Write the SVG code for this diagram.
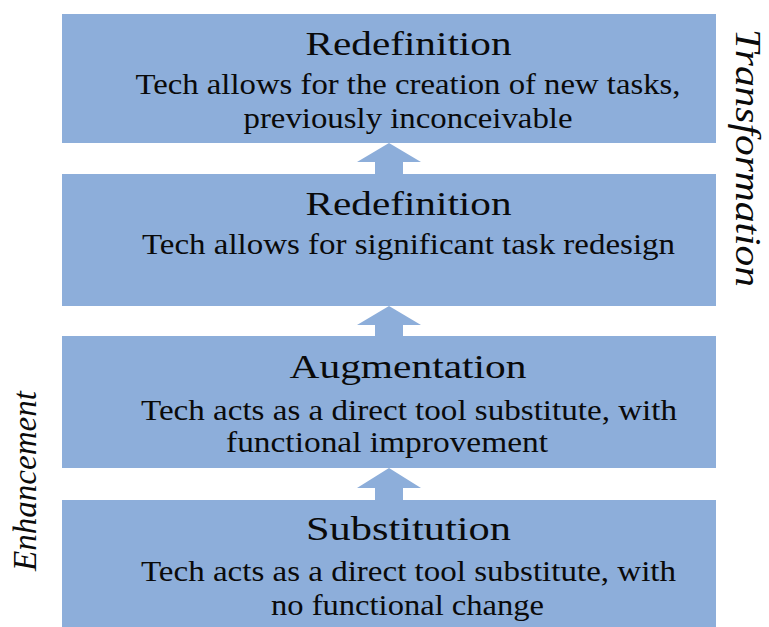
<svg xmlns="http://www.w3.org/2000/svg" width="769" height="627" viewBox="0 0 769 627">
<style>
.box{fill:#8DAEDA}
.arrow{fill:#8DAEDA}
text{font-family:"Liberation Serif","Times New Roman",serif;fill:#0a0a0a}
.title{font-size:34px;text-anchor:middle}
.body{font-size:29px;text-anchor:middle}
.side{font-size:33px;font-style:italic}
</style>
<rect width="769" height="627" fill="#ffffff"/>
<g id="connectors">
<path class="arrow" d="M389,143 L421,162 L403,162 L403,175 L375,175 L375,162 L357,162 Z"/>
<path class="arrow" d="M389,306 L421,325 L403,325 L403,337 L375,337 L375,325 L357,325 Z"/>
<path class="arrow" d="M389,468 L421,488 L403,488 L403,501 L375,501 L375,488 L357,488 Z"/>
</g>
<g id="node-redefinition-top">
<rect class="box" x="62" y="14" width="654" height="129"/>
<text class="title" x="408.5" y="55" textLength="206" lengthAdjust="spacingAndGlyphs">Redefinition</text>
<text class="body" x="408" y="94" textLength="545" lengthAdjust="spacingAndGlyphs">Tech allows for the creation of new tasks,</text>
<text class="body" x="408" y="128" textLength="329" lengthAdjust="spacingAndGlyphs">previously inconceivable</text>
</g>
<g id="node-redefinition">
<rect class="box" x="62" y="174" width="654" height="132"/>
<text class="title" x="408.5" y="215" textLength="206" lengthAdjust="spacingAndGlyphs">Redefinition</text>
<text class="body" x="408.5" y="254" textLength="533" lengthAdjust="spacingAndGlyphs">Tech allows for significant task redesign</text>
</g>
<g id="node-augmentation">
<rect class="box" x="62" y="336" width="654" height="132"/>
<text class="title" x="408" y="378" textLength="237" lengthAdjust="spacingAndGlyphs">Augmentation</text>
<text class="body" x="409" y="420" textLength="536" lengthAdjust="spacingAndGlyphs">Tech acts as a direct tool substitute, with</text>
<text class="body" x="387" y="452" textLength="322" lengthAdjust="spacingAndGlyphs">functional improvement</text>
</g>
<g id="node-substitution">
<rect class="box" x="62" y="500" width="654" height="127"/>
<text class="title" x="408.5" y="540" textLength="205" lengthAdjust="spacingAndGlyphs">Substitution</text>
<text class="body" x="408.5" y="581" textLength="535" lengthAdjust="spacingAndGlyphs">Tech acts as a direct tool substitute, with</text>
<text class="body" x="407.5" y="615" textLength="273" lengthAdjust="spacingAndGlyphs">no functional change</text>
</g>
<g id="label-enhancement">
<text class="side" transform="translate(36,571) rotate(-90)" textLength="180" lengthAdjust="spacingAndGlyphs">Enhancement</text>
</g>
<g id="label-transformation">
<text class="side" style="font-size:35px" transform="translate(736,29) rotate(90)" textLength="258" lengthAdjust="spacingAndGlyphs">Transformation</text>
</g>
</svg>
